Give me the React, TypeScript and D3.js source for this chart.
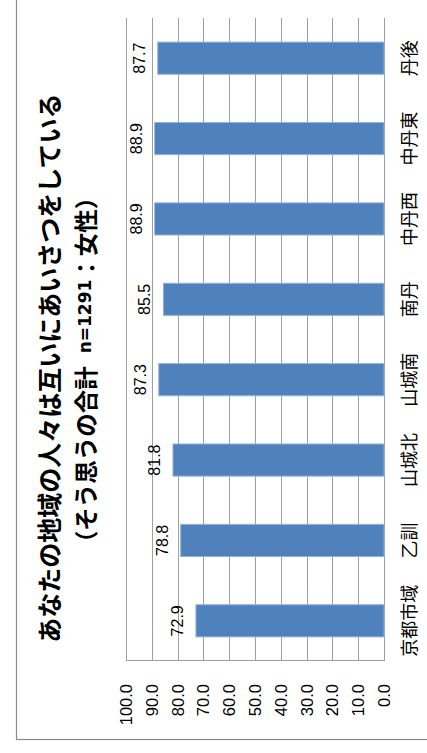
import React from "react";
import * as d3 from "d3";

const categories = ["京都市域", "乙訓", "山城北", "山城南", "南丹", "中丹西", "中丹東", "丹後"];
const values = [72.9, 78.8, 81.8, 87.3, 85.5, 88.9, 88.9, 87.7];
const tickValues = [0, 10, 20, 30, 40, 50, 60, 70, 80, 90, 100];
const titleLine1 = "あなたの地域の人々は互いにあいさつをしている";
const titleLine2a = "（そう思うの合計";
const titleLine2b = "n=1291";
const titleLine2c = "：女性）";

const W = 753; // unrotated width (screen height)
const H = 427; // unrotated height (screen width)

export default function App() {
  const x = d3
    .scaleBand<string>()
    .domain(categories)
    .range([92, 735])
    .paddingInner(0.6)
    .paddingOuter(0.3);
  const y = d3.scaleLinear().domain([0, 100]).range([384, 126]);
  const cjk = "'Noto Sans CJK JP', 'Noto Sans', sans-serif";
  const latin = "'Liberation Sans', Arial, sans-serif";

  return (
    <svg
      width={427}
      height={753}
      style={{ position: "absolute", left: 0, top: 0, display: "block", background: "#fff" }}
    >
      <g transform={`translate(0,${W}) rotate(-90)`}>
        {/* chart frame */}
        <rect x={13.5} y={16.5} width={W} height={H} fill="none" stroke="#8a8a8a" strokeWidth={1.2} />
        {/* title */}
        <text
          x={385}
          y={48}
          textAnchor="middle"
          dominantBaseline="central"
          fontFamily={cjk}
          fontWeight="bold"
          fontSize={25}
          fill="#000"
        >
          {titleLine1}
        </text>
        <text
          x={383}
          y={85}
          textAnchor="middle"
          dominantBaseline="central"
          fontFamily={cjk}
          fontWeight="bold"
          fontSize={23.5}
          fill="#000"
        >
          <tspan>{titleLine2a}</tspan>
          <tspan dx={13} fontSize={17} fontFamily="'DejaVu Sans', sans-serif">{titleLine2b}</tspan>
          <tspan>{titleLine2c}</tspan>
        </text>
        {/* gridlines */}
        {tickValues.map((t) => (
          <line
            key={"g" + t}
            x1={92}
            x2={735}
            y1={Math.round(y(t)) + 0.5}
            y2={Math.round(y(t)) + 0.5}
            stroke="#a0a0a0"
            strokeWidth={1}
          />
        ))}
        {/* value axis line */}
        <line x1={92.5} x2={92.5} y1={y(100)} y2={y(0)} stroke="#a0a0a0" strokeWidth={1} />
        {/* tick labels */}
        {tickValues.map((t) => (
          <text
            key={"t" + t}
            x={69}
            y={y(t)}
            textAnchor="end"
            dominantBaseline="central"
            fontFamily={latin}
            fontSize={16.5}
            fill="#000"
          >
            {t.toFixed(1)}
          </text>
        ))}
        {/* bars */}
        {categories.map((c, i) => (
          <rect
            key={"b" + c}
            x={x(c)!}
            y={y(values[i])}
            width={x.bandwidth()}
            height={y(0) - y(values[i])}
            fill="#4F81BD"
            stroke="#94B3DB"
            strokeWidth={1}
          />
        ))}
        {/* value labels */}
        {categories.map((c, i) => (
          <text
            key={"v" + c}
            x={x(c)! + x.bandwidth() / 2}
            y={y(values[i]) - 13}
            textAnchor="middle"
            fontFamily={latin}
            fontSize={16}
            fill="#000"
          >
            {values[i].toFixed(1)}
          </text>
        ))}
        {/* category labels */}
        {categories.map((c) => (
          <text
            key={"c" + c}
            x={x(c)! + x.bandwidth() / 2}
            y={408}
            textAnchor="middle"
            dominantBaseline="central"
            fontFamily={cjk}
            fontSize={18}
            fill="#000"
          >
            {c}
          </text>
        ))}
      </g>
    </svg>
  );
}
